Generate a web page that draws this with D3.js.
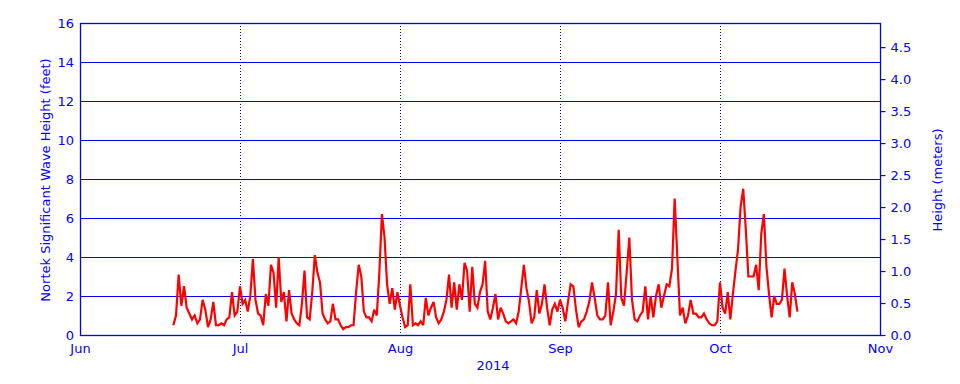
<!DOCTYPE html>
<html>
<head>
<meta charset="utf-8">
<script src="https://cdn.jsdelivr.net/npm/d3@7"></script>
<style>
  html, body { margin: 0; padding: 0; background: #fff; }
  svg { display: block; }
  text { font-family: "DejaVu Sans", sans-serif; fill: #0000ff; }
</style>
</head>
<body>
<svg id="chart" width="960" height="384"></svg>
<script>
// ---- data ----
const monthStarts = ["2014-06-01", "2014-07-01", "2014-08-01", "2014-09-01", "2014-10-01", "2014-11-01"];
const monthLabels = ["Jun", "Jul", "Aug", "Sep", "Oct", "Nov"];
const yearLabel = "2014";
const feetTicks = [0, 2, 4, 6, 8, 10, 12, 14, 16];
const meterTicks = [0, 0.5, 1, 1.5, 2, 2.5, 3, 3.5, 4, 4.5];
const seriesStart = "2014-06-18T12:00:00Z";
const stepHours = 12;
// significant wave height (feet), every 12 h from Jun 18 12:00 to Oct 16 00:00
const waveFeet = [
  // June 18.5 - 30.5
  0.5, 1.0, 3.1, 1.5, 2.5, 1.4, 1.1, 0.8, 1.0, 0.6, 0.8, 1.8, 1.3, 0.4, 0.8, 1.7,
  0.5, 0.5, 0.6, 0.5, 0.8, 0.9, 2.2, 1.0, 1.2,
  // July
  2.5, 1.6, 1.8, 1.2, 2.0, 3.9, 1.8, 1.1, 1.0, 0.5, 2.1, 1.5, 3.6, 3.2, 1.4, 4.0,
  1.7, 2.2, 0.7, 2.3, 1.1, 0.8, 0.6, 0.5, 1.6, 3.3, 0.9, 0.8, 2.2, 4.1, 3.2, 2.7,
  1.1, 0.8, 0.6, 0.7, 1.6, 0.8, 0.8, 0.5, 0.3, 0.4, 0.4, 0.5, 0.5, 2.2, 3.6, 3.0,
  1.2, 0.9, 0.9, 0.7, 1.3, 1.0, 3.2, 6.2, 5.0, 2.6, 1.6, 2.4, 1.3, 2.2,
  // August
  1.5, 0.9, 0.4, 0.5, 2.6, 0.5, 0.6, 0.5, 0.7, 0.5, 1.9, 1.0, 1.4, 1.7, 0.9, 0.6,
  0.8, 1.2, 1.8, 3.1, 1.4, 2.7, 1.3, 2.6, 1.8, 3.7, 3.3, 1.2, 3.5, 1.6, 1.4, 2.2,
  2.6, 3.8, 1.2, 0.8, 1.4, 2.1, 0.8, 1.4, 1.1, 0.7, 0.6, 0.7, 0.8, 0.6, 1.2, 2.4,
  3.6, 2.4, 1.7, 0.6, 0.9, 2.3, 1.1, 1.6, 2.6, 1.4, 0.5, 1.3, 1.6, 1.2,
  // September
  1.8, 1.4, 0.7, 1.7, 2.6, 2.5, 1.3, 0.4, 0.7, 0.8, 1.2, 1.7, 2.7, 1.9, 1.0, 0.8,
  0.8, 1.0, 2.7, 0.5, 1.2, 2.1, 5.4, 1.9, 1.5, 3.2, 5.0, 1.8, 0.8, 0.7, 1.0, 1.2,
  2.5, 0.8, 2.0, 0.9, 2.0, 2.6, 1.4, 2.0, 2.6, 2.5, 3.4, 7.0, 4.0, 1.0, 1.4, 0.6,
  1.0, 1.8, 1.1, 1.1, 0.9, 0.9, 1.1, 0.8, 0.6, 0.5, 0.5, 0.7,
  // October 1.0 - 16.0
  2.7, 1.4, 1.1, 2.2, 0.8, 2.1, 3.3, 4.4, 6.6, 7.5, 5.4, 3.0, 3.0, 3.0, 3.6, 2.3,
  5.2, 6.2, 3.5, 2.1, 0.9, 2.0, 1.6, 1.6, 1.8, 3.4, 2.0, 0.9, 2.7, 2.1, 1.2
];
const feetPerMeter = 1 / 0.3048;

// ---- layout ----
const margin = { left: 80, right: 80, top: 23, bottom: 49 };
const W = 960, H = 384;
const x0 = margin.left, x1 = W - margin.right;
const y0 = H - margin.bottom, y1 = margin.top;

const svg = d3.select("#chart");
svg.append("rect").attr("width", W).attr("height", H).attr("fill", "#fff");

const monthDates = monthStarts.map(s => new Date(s + "T00:00:00Z"));
const x = d3.scaleUtc()
  .domain(monthDates)
  .range(monthDates.map((d, i) => x0 + i * (x1 - x0) / (monthDates.length - 1)));
const y = d3.scaleLinear().domain([0, 16]).range([y0, y1]);
const yM = d3.scaleLinear().domain([0, 16 / feetPerMeter]).range([y0, y1]);

const blue = "#0000ff";

// horizontal grid lines
svg.append("g").selectAll("line")
  .data(feetTicks.filter(v => v > 0 && v < 16))
  .join("line")
  .attr("x1", x0).attr("x2", x1)
  .attr("y1", d => Math.round(y(d)) + 0.5).attr("y2", d => Math.round(y(d)) + 0.5)
  .attr("stroke", blue).attr("stroke-width", 1.2);

// vertical dotted month lines
svg.append("g").selectAll("line")
  .data(monthDates.slice(1, -1))
  .join("line")
  .attr("x1", d => Math.round(x(d)) + 0.5).attr("x2", d => Math.round(x(d)) + 0.5)
  .attr("y1", y1).attr("y2", y0)
  .attr("stroke", blue).attr("stroke-width", 1)
  .attr("stroke-dasharray", "1,2");

// data line
const times = waveFeet.map((v, i) => d3.utcHour.offset(new Date(seriesStart), i * stepHours));
const line = d3.line()
  .x((d, i) => x(times[i]))
  .y(d => y(d));
svg.append("path")
  .datum(waveFeet)
  .attr("d", line)
  .attr("fill", "none")
  .attr("stroke", "#ff0000")
  .attr("stroke-width", 2.2)
  .attr("stroke-linejoin", "miter")
  .attr("stroke-miterlimit", 3);

// frame
svg.append("rect")
  .attr("x", x0 + 0.5).attr("y", y1 + 0.5)
  .attr("width", x1 - x0).attr("height", y0 - y1)
  .attr("fill", "none").attr("stroke", blue).attr("stroke-width", 1.3);

// left axis (feet)
const leftAxis = d3.axisLeft(y).tickValues(feetTicks).tickSize(0).tickPadding(6);
const gl = svg.append("g").attr("transform", `translate(${x0},0)`).call(leftAxis);
gl.select(".domain").remove();
gl.selectAll("text").style("font-size", "13px").attr("fill", blue);

// right axis (meters)
const rightAxis = d3.axisRight(yM).tickValues(meterTicks).tickSize(5).tickPadding(5)
  .tickFormat(d3.format(".1f"));
const gr = svg.append("g").attr("transform", `translate(${x1 + 0.5},0)`).call(rightAxis);
gr.select(".domain").remove();
gr.selectAll("line").attr("stroke", blue).attr("stroke-width", 1.2);
gr.selectAll("text").style("font-size", "13px").attr("fill", blue);

// bottom axis (months)
const bottomAxis = d3.axisBottom(x).tickValues(monthDates).tickSize(0).tickPadding(9)
  .tickFormat((d, i) => monthLabels[i]);
const gb = svg.append("g").attr("transform", `translate(0,${y0})`).call(bottomAxis);
gb.select(".domain").remove();
gb.selectAll("text").style("font-size", "13px").attr("fill", blue);

// year label
svg.append("text")
  .attr("x", 493).attr("y", 370)
  .attr("text-anchor", "middle")
  .style("font-size", "13px")
  .text(yearLabel);

// axis titles
svg.append("text")
  .attr("transform", `translate(50,180) rotate(-90)`)
  .attr("text-anchor", "middle")
  .style("font-size", "13px")
  .text("Nortek Significant Wave Height (feet)");
svg.append("text")
  .attr("transform", `translate(942,180) rotate(-90)`)
  .attr("text-anchor", "middle")
  .style("font-size", "13px")
  .text("Height (meters)");
</script>
</body>
</html>
